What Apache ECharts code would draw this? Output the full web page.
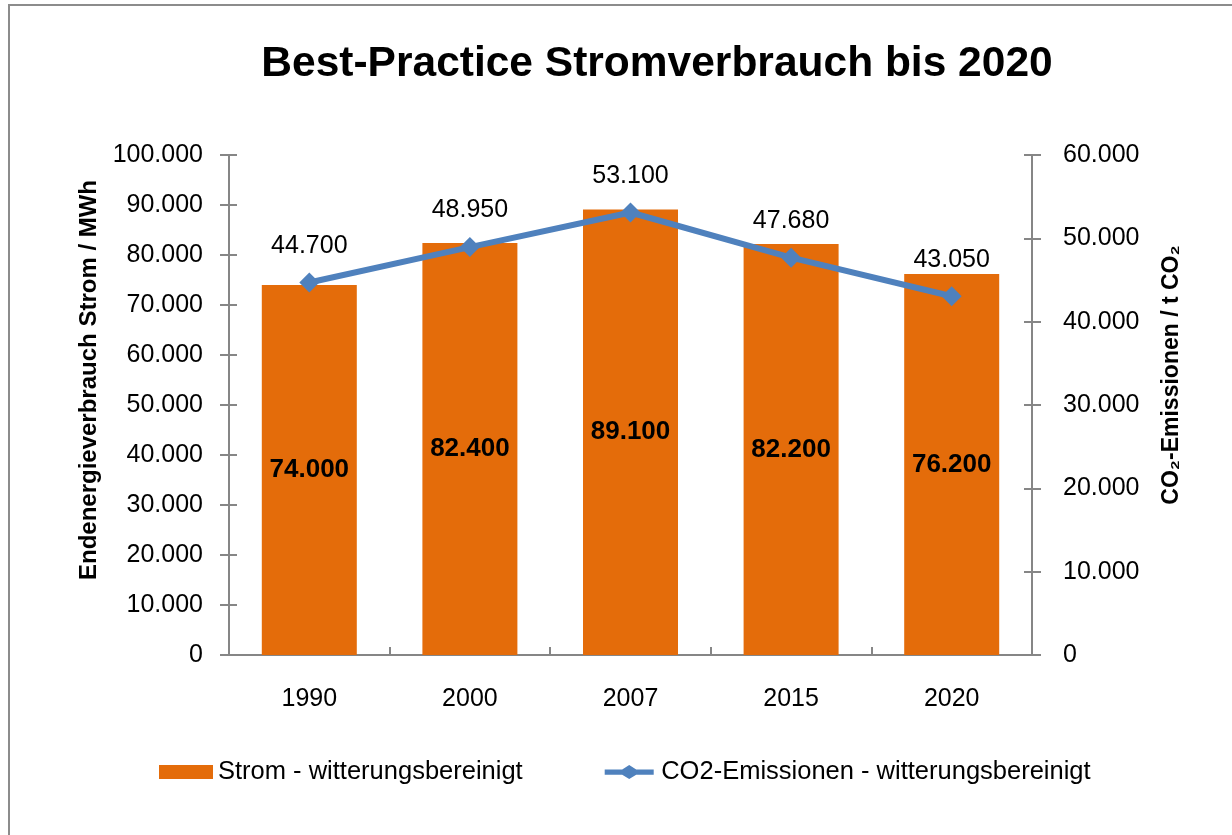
<!DOCTYPE html>
<html>
<head>
    <meta charset="utf-8">
    <title>Best-Practice Stromverbrauch bis 2020</title>
    <script src="https://cdn.jsdelivr.net/npm/echarts@6/dist/echarts.min.js"></script>
    <style>
        body, html { margin: 0; padding: 0; width: 100%; height: 100%; overflow: hidden; background: #fff; }
        #main { width: 1232px; height: 835px; }
    </style>
</head>
<body>
    <div id="main"></div>
    <script type="text/javascript">
        // chart data
        var years = ['1990', '2000', '2007', '2015', '2020'];
        var strom = [74000, 82400, 89100, 82200, 76200];
        var co2 = [44700, 48950, 53100, 47680, 43050];

        var FONT = 'Liberation Sans';
        var AXIS_GRAY = '#868686';
        // legend marker for the line: thick stroke with a diamond in the middle
        var LINE_ICON = 'path://M0,5 L20,5 L28,0 L36,5 L56,5 L56,11 L36,11 L28,16 L20,11 L0,11 Z';

        // German thousands separator: 74000 -> 74.000
        function fmt(v) {
            return Number(v).toLocaleString('de-DE');
        }

        // invisible copy of an axis, only to draw the inner half of the crossing ticks
        function innerTicks(base) {
            return Object.assign({}, base, {
                name: '',
                axisLine: { show: false },
                axisLabel: { show: false },
                splitLine: { show: false },
                axisTick: { show: true, inside: true, length: 8, lineStyle: { color: AXIS_GRAY, width: 2 } }
            });
        }

        var myChart = echarts.init(document.getElementById('main'));

        var leftAxis = {
            type: 'value',
            position: 'left',
            min: 0,
            max: 100000,
            interval: 10000,
            name: 'Endenergieverbrauch Strom / MWh',
            nameLocation: 'middle',
            nameGap: 120,
            nameRotate: 90,
            nameTextStyle: { fontFamily: FONT, fontSize: 24, fontWeight: 'bold', color: '#000', padding: [0, 0, 0, 50] },
            splitLine: { show: false },
            axisLine: { show: true, lineStyle: { color: AXIS_GRAY, width: 2 } },
            axisTick: { show: true, length: 9, lineStyle: { color: AXIS_GRAY, width: 2 } },
            axisLabel: { fontFamily: FONT, fontSize: 25, color: '#000', margin: 26, formatter: fmt }
        };
        var rightAxis = {
            type: 'value',
            position: 'right',
            min: 0,
            max: 60000,
            interval: 10000,
            name: 'CO\u2082-Emissionen / t CO\u2082',
            nameLocation: 'middle',
            nameGap: 128,
            nameRotate: 90,
            nameTextStyle: { fontFamily: FONT, fontSize: 23, fontWeight: 'bold', color: '#000', padding: [0, 0, 0, 60] },
            splitLine: { show: false },
            axisLine: { show: true, lineStyle: { color: AXIS_GRAY, width: 2 } },
            axisTick: { show: true, length: 9, lineStyle: { color: AXIS_GRAY, width: 2 } },
            axisLabel: { fontFamily: FONT, fontSize: 25, color: '#000', margin: 31, formatter: fmt }
        };
        var catAxis = {
            type: 'category',
            position: 'bottom',
            data: years,
            axisLine: { lineStyle: { color: AXIS_GRAY, width: 2 } },
            axisTick: { length: 8, lineStyle: { color: AXIS_GRAY, width: 2 } },
            axisLabel: { fontFamily: FONT, fontSize: 25, color: '#000', margin: 32 }
        };

        var option = {
            animation: false,
            textStyle: { fontFamily: FONT, color: '#000' },
            title: {
                text: 'Best-Practice Stromverbrauch bis 2020',
                left: 652,
                textAlign: 'center',
                top: 38,
                textStyle: { fontFamily: FONT, fontSize: 42.5, fontWeight: 'bold', color: '#000' }
            },
            graphic: [{
                type: 'rect',
                shape: { x: 9, y: 5, width: 1260, height: 860 },
                style: { fill: 'none', stroke: '#8c8c8c', lineWidth: 2 },
                silent: true
            }],
            legend: {
                top: 754,
                left: 154,
                itemGap: 82,
                itemWidth: 54,
                itemHeight: 14,
                textStyle: { fontFamily: FONT, fontSize: 25.5, color: '#000' },
                data: [
                    { name: 'Strom - witterungsbereinigt', icon: 'rect' },
                    { name: 'CO2-Emissionen - witterungsbereinigt', icon: LINE_ICON }
                ]
            },
            grid: { left: 229, right: 200, top: 155, bottom: 180 },
            xAxis: [catAxis, innerTicks(catAxis)],
            yAxis: [leftAxis, rightAxis, innerTicks(leftAxis), innerTicks(rightAxis)],
            series: [{
                name: 'Strom - witterungsbereinigt',
                type: 'bar',
                data: strom,
                barWidth: 95,
                itemStyle: { color: '#E46C0A' },
                label: {
                    show: true,
                    position: 'inside',
                    fontFamily: FONT,
                    fontSize: 26,
                    fontWeight: 'bold',
                    color: '#000',
                    formatter: function (p) { return fmt(p.value); }
                }
            }, {
                name: 'CO2-Emissionen - witterungsbereinigt',
                type: 'line',
                yAxisIndex: 1,
                data: co2,
                symbol: 'diamond',
                symbolSize: 20,
                lineStyle: { color: '#4F81BD', width: 6 },
                itemStyle: { color: '#4F81BD' },
                label: {
                    show: true,
                    position: 'top',
                    distance: 14,
                    fontFamily: FONT,
                    fontSize: 25,
                    color: '#000',
                    formatter: function (p) { return fmt(p.value); }
                }
            }]
        };

        myChart.setOption(option);
    </script>
</body>
</html>
